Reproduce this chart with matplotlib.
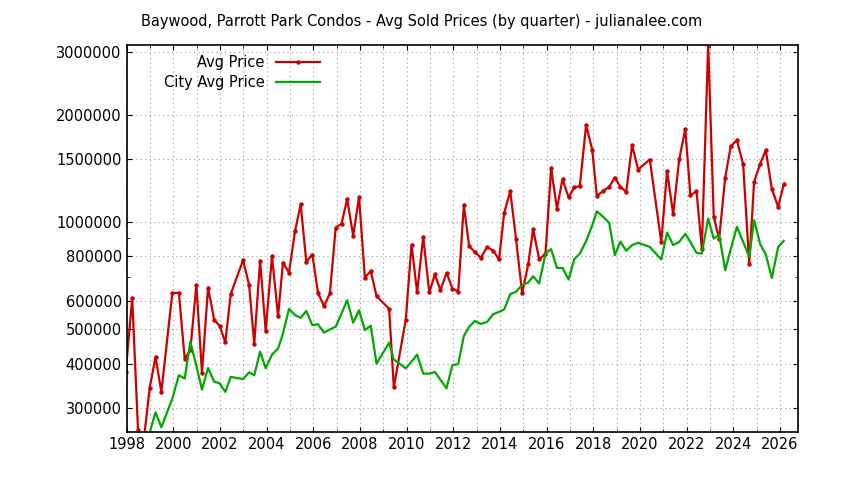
import matplotlib
matplotlib.use("Agg")
import matplotlib.pyplot as plt
from matplotlib.ticker import FixedLocator, NullFormatter, MultipleLocator

red_years = [1997.96,1998.24,1998.49,1998.74,1998.99,1999.24,1999.49,1999.96,2000.24,2000.49,2000.73,2000.99,
             2001.23,2001.49,2001.75,2001.99,2002.23,2002.46,2002.99,2003.25,2003.47,2003.72,2003.96,2004.23,
             2004.49,2004.70,2004.96,2005.22,2005.46,2005.70,2005.96,2006.20,2006.46,2006.71,2006.96,2007.21,
             2007.45,2007.71,2007.96,2008.21,2008.46,2008.71,2009.25,2009.45,2009.96,2010.21,2010.45,2010.71,
             2010.97,2011.21,2011.45,2011.71,
             2011.96,2012.21,2012.45,2012.68,2012.92,2013.18,2013.45,2013.71,2013.96,2014.18,2014.44,2014.69,
             2014.95,2015.21,2015.42,2015.68,2015.95,2016.19,2016.44,2016.68,2016.94,2017.18,2017.42,2017.69,
             2017.95,2018.15,2018.42,2018.68,2018.92,2019.16,2019.41,2019.66,2019.92,2020.42,2020.91,2021.16,
             2021.42,2021.68,2021.94,2022.16,2022.42,2022.65,2022.92,2023.16,2023.39,2023.65,2023.89,2024.15,
             2024.42,2024.68,2024.89,2025.15,2025.39,2025.65,2025.92,2026.16]
red_vals = [378e3,610e3,260e3,245e3,342e3,418e3,333e3,632e3,632e3,413e3,436e3,665e3,
            377e3,653e3,532e3,510e3,459e3,627e3,781e3,665e3,454e3,778e3,494e3,802e3,
            544e3,768e3,721e3,945e3,1120e3,773e3,810e3,632e3,580e3,630e3,963e3,990e3,
            1159e3,915e3,1177e3,698e3,728e3,619e3,570e3,343e3,530e3,864e3,634e3,909e3,
            634e3,712e3,643e3,720e3,
            650e3,637e3,1115e3,855e3,824e3,793e3,851e3,830e3,785e3,1061e3,1221e3,893e3,
            630e3,761e3,955e3,785e3,815e3,1419e3,1091e3,1319e3,1172e3,1250e3,1261e3,1870e3,
            1598e3,1182e3,1223e3,1255e3,1333e3,1255e3,1215e3,1644e3,1404e3,1498e3,879e3,1389e3,
            1051e3,1501e3,1823e3,1187e3,1221e3,842e3,3150e3,1034e3,895e3,1333e3,1633e3,1697e3,
            1453e3,763e3,1297e3,1457e3,1591e3,1237e3,1103e3,1277e3]

city_years = [1998.74,1998.99,1999.24,1999.49,1999.96,2000.24,2000.49,2000.73,2000.99,2001.23,2001.49,2001.75,
              2001.99,2002.23,2002.46,2002.99,2003.25,2003.47,2003.72,2003.96,2004.23,2004.49,2004.70,2004.96,
              2005.22,2005.46,2005.70,2005.96,2006.20,2006.46,2006.71,2006.96,2007.21,2007.45,2007.71,2007.96,
              2008.21,2008.46,2008.71,2009.25,2009.45,2009.96,2010.21,2010.45,2010.71,2010.97,2011.21,2011.45,
              2011.71,
              2011.96,2012.21,2012.45,2012.68,2012.92,2013.18,2013.45,2013.71,2013.96,2014.18,2014.44,2014.69,
              2014.95,2015.21,2015.42,2015.68,2015.95,2016.19,2016.44,2016.68,2016.94,2017.18,2017.42,2017.69,
              2017.95,2018.15,2018.42,2018.68,2018.92,2019.16,2019.41,2019.66,2019.92,2020.42,2020.91,2021.16,
              2021.42,2021.68,2021.94,2022.16,2022.42,2022.65,2022.92,2023.16,2023.39,2023.65,2023.89,2024.15,
              2024.42,2024.68,2024.89,2025.15,2025.39,2025.65,2025.92,2026.16]
city_vals = [240e3,256e3,292e3,265e3,319e3,371e3,363e3,461e3,394e3,338e3,389e3,356e3,
             352e3,333e3,367e3,362e3,378e3,371e3,432e3,388e3,424e3,441e3,486e3,570e3,
             547e3,538e3,562e3,513e3,516e3,489e3,499e3,508e3,553e3,603e3,521e3,565e3,
             497e3,511e3,400e3,458e3,411e3,388e3,405e3,424e3,375e3,375e3,379e3,360e3,
             341e3,
             396e3,399e3,478e3,508e3,527e3,517e3,524e3,551e3,559e3,568e3,627e3,637e3,
             665e3,676e3,704e3,672e3,815e3,839e3,743e3,743e3,689e3,786e3,815e3,883e3,
             977e3,1072e3,1034e3,994e3,807e3,881e3,830e3,861e3,874e3,851e3,785e3,934e3,
             861e3,879e3,926e3,879e3,819e3,815e3,1023e3,898e3,922e3,732e3,839e3,969e3,
             879e3,798e3,1012e3,866e3,810e3,696e3,851e3,885e3]

yticks = [300000, 400000, 500000, 600000, 800000, 1000000, 1500000, 2000000, 3000000]

fig = plt.figure(figsize=(8.44, 4.80), dpi=100)
ax = fig.add_axes([0.150, 0.100, 0.7955, 0.806])
ax.plot(red_years, red_vals, color="#cc0000", lw=1.6, marker="o", ms=2.2, label="Avg Price")
ax.plot(city_years, city_vals, color="#00a800", lw=1.6, label="City Avg Price")
ax.set_yscale("log")
ax.set_ylim(257000, 3140000)
ax.set_xlim(1998, 2026.77)
ax.yaxis.set_major_locator(FixedLocator(yticks))
ax.yaxis.set_minor_locator(FixedLocator([700000, 900000]))
ax.yaxis.set_minor_formatter(NullFormatter())
ax.set_yticklabels([str(v) for v in yticks])
ax.xaxis.set_major_locator(MultipleLocator(2))
ax.xaxis.set_minor_locator(MultipleLocator(1))
ax.tick_params(which="both", direction="in", top=True, right=True, labelsize=10.5)
ax.grid(True, which="major", axis="y", ls=(0, (1, 3)), color="#999999", lw=0.8)
ax.grid(True, which="both", axis="x", ls=(0, (1, 3)), color="#999999", lw=0.8)
for s in ax.spines.values():
    s.set_linewidth(1.2)
ax.legend(loc="upper left", bbox_to_anchor=(0.04, 1.0), frameon=False, markerfirst=False,
          fontsize=10.5, handlelength=3, borderaxespad=0.3, labelspacing=0.3)
fig.text(0.5, 0.955, "Baywood, Parrott Park Condos - Avg Sold Prices (by quarter) - julianalee.com",
         ha="center", va="center", fontsize=10.5)
fig.savefig("out.png", dpi=100)
